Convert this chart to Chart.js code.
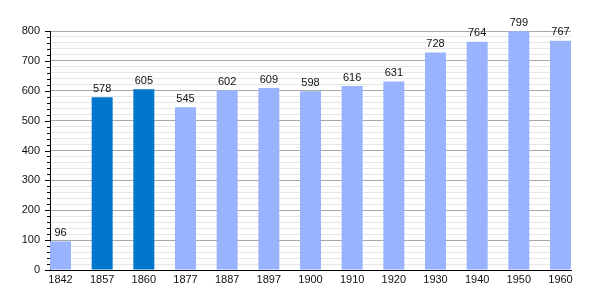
<!DOCTYPE html>
<html>
<head>
<meta charset="utf-8">
<script src="https://cdn.jsdelivr.net/npm/chart.js@4/dist/chart.umd.min.js"></script>
<style>
  html, body { margin: 0; padding: 0; background: #fff; }
  #wrap { width: 600px; height: 300px; }
</style>
</head>
<body>
<div id="wrap"><canvas id="chart"></canvas></div>
<script>
// Years and population counts
const years = ['1842', '1857', '1860', '1877', '1887', '1897', '1900', '1910', '1920', '1930', '1940', '1950', '1960'];
const population = [96, 578, 605, 545, 602, 609, 598, 616, 631, 728, 764, 799, 767];
// years drawn in the darker colour
const highlighted = ['1857', '1860'];
const yTicks = [0, 100, 200, 300, 400, 500, 600, 700, 800];

const lightBlue = '#99b3ff';
const darkBlue = '#0077cc';

// value labels above each bar
const valueLabels = {
    id: 'valueLabels',
    afterDatasetsDraw(chart) {
        const ctx = chart.ctx;
        const meta = chart.getDatasetMeta(0);
        ctx.save();
        ctx.font = '11px "Liberation Sans", Arial, sans-serif';
        ctx.fillStyle = '#111';
        ctx.textAlign = 'center';
        ctx.textBaseline = 'bottom';
        meta.data.forEach((bar, i) => {
            ctx.fillText(String(population[i]), bar.x, bar.y - 3);
        });
        ctx.restore();
    }
};

// short minor ticks on the y axis
const minorTicks = {
    id: 'minorTicks',
    afterDraw(chart) {
        const y = chart.scales.y;
        const ctx = chart.ctx;
        ctx.save();
        ctx.strokeStyle = '#000';
        ctx.lineWidth = 1;
        for (let v = 0; v <= 800; v += 20) {
            const py = Math.round(y.getPixelForValue(v)) + 0.5;
            const len = v % 100 === 0 ? 5 : 3;
            ctx.beginPath();
            ctx.moveTo(y.right - len, py);
            ctx.lineTo(y.right, py);
            ctx.stroke();
        }
        ctx.restore();
    }
};

const ctx = document.getElementById('chart').getContext('2d');
new Chart(ctx, {
    type: 'bar',
    data: {
        datasets: [{
            data: population.map((v, i) => ({ x: i, y: v })),
            backgroundColor: years.map(y => highlighted.includes(y) ? darkBlue : lightBlue),
            borderWidth: 0,
            barPercentage: 0.504,
            categoryPercentage: 1
        }]
    },
    options: {
        responsive: true,
        maintainAspectRatio: false,
        animation: false,
        devicePixelRatio: 1,
        layout: { padding: { left: 0, right: 29, top: 31, bottom: 0 } },
        plugins: {
            legend: { display: false },
            tooltip: { enabled: false }
        },
        scales: {
            x: {
                type: 'linear',
                offset: false,
                min: -0.252,
                max: 12.252,
                afterBuildTicks(scale) {
                    scale.ticks = years.map((y, i) => ({ value: i }));
                },
                afterFit(scale) { scale.height = 30; },
                grid: { display: false, drawTicks: false },
                border: { display: true, color: '#000', width: 1 },
                ticks: {
                    autoSkip: false,
                    maxRotation: 0,
                    padding: 3,
                    color: '#111',
                    font: { family: '"Liberation Sans", Arial, sans-serif', size: 11 },
                    callback: v => years[v]
                }
            },
            y: {
                min: 0,
                max: 800,
                afterBuildTicks(scale) {
                    const t = [];
                    for (let v = 0; v <= 800; v += 20) t.push({ value: v });
                    scale.ticks = t;
                },
                afterFit(scale) { scale.width = 50; },
                grid: {
                    drawTicks: false,
                    color: c => c.tick && c.tick.value % 100 === 0 ? '#a8a8a8' : '#e6e6e6',
                    lineWidth: 1
                },
                border: { display: true, color: '#000', width: 1 },
                ticks: {
                    autoSkip: false,
                    padding: 10,
                    color: '#111',
                    font: { family: '"Liberation Sans", Arial, sans-serif', size: 11 },
                    callback: v => yTicks.includes(v) ? String(v) : ''
                }
            }
        }
    },
    plugins: [valueLabels, minorTicks]
});
</script>
</body>
</html>
